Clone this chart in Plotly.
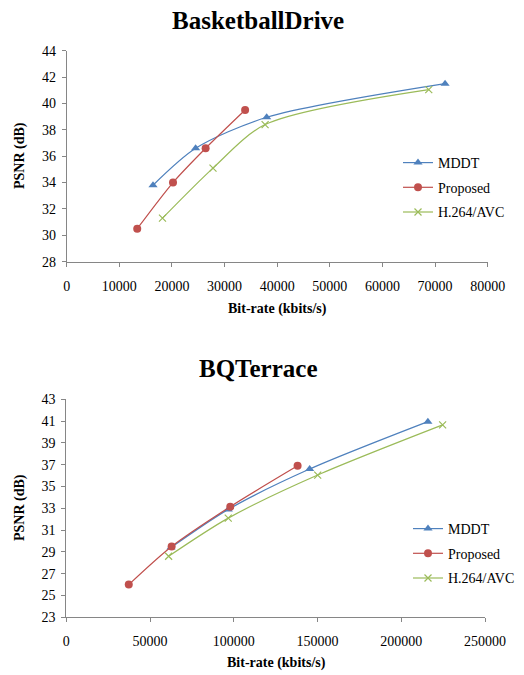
import plotly.graph_objects as go

# ---- data ----
series_names = ["MDDT", "Proposed", "H.264/AVC"]

bd_mddt_x = [16400, 24500, 38000, 71900]
bd_mddt_y = [33.8, 36.6, 38.95, 41.5]
bd_prop_x = [13400, 20200, 26400, 33900]
bd_prop_y = [30.5, 34.0, 36.6, 39.5]
bd_h264_x = [18200, 27800, 37700, 68800]
bd_h264_y = [31.3, 35.1, 38.4, 41.05]

bq_mddt_x = [62500, 96700, 145300, 215900]
bq_mddt_y = [29.4, 32.9, 36.6, 40.95]
bq_prop_x = [37300, 62900, 97900, 138100]
bq_prop_y = [26.0, 29.5, 33.15, 36.9]
bq_h264_x = [61100, 96700, 150100, 224700]
bq_h264_y = [28.6, 32.1, 36.05, 40.65]

bd_xticks = [0, 10000, 20000, 30000, 40000, 50000, 60000, 70000, 80000]
bd_yticks = [28, 30, 32, 34, 36, 38, 40, 42, 44]
bq_xticks = [0, 50000, 100000, 150000, 200000, 250000]
bq_yticks = [23, 25, 27, 29, 31, 33, 35, 37, 39, 41, 43]

colors = ["#4F81BD", "#C0504D", "#9BBB59"]
markers = [dict(symbol="triangle-up", size=8),
           dict(symbol="circle", size=8),
           dict(symbol="x-thin", size=7, line=dict(width=1.2, color=colors[2]))]

FONT = "Liberation Serif, Times New Roman, serif"

fig = go.Figure()

def add_series(xs, ys, i, xa, ya, legend):
    m = dict(markers[i])
    m["color"] = colors[i]
    fig.add_trace(go.Scatter(
        x=xs, y=ys, name=series_names[i], mode="lines+markers",
        line=dict(color=colors[i], width=1.2, shape="spline", smoothing=0.8),
        marker=m, xaxis=xa, yaxis=ya, legend=legend,
        legendgroup=legend + str(i),
    ))

top = [(bd_mddt_x, bd_mddt_y), (bd_prop_x, bd_prop_y), (bd_h264_x, bd_h264_y)]
bot = [(bq_mddt_x, bq_mddt_y), (bq_prop_x, bq_prop_y), (bq_h264_x, bq_h264_y)]
for i, (xs, ys) in enumerate(top):
    add_series(xs, ys, i, "x", "y", "legend")
for i, (xs, ys) in enumerate(bot):
    add_series(xs, ys, i, "x2", "y2", "legend2")

W, H = 524, 675
axcommon = dict(showgrid=False, zeroline=False, showline=True, linecolor="#868686",
                linewidth=1, ticks="outside", ticklen=4, tickcolor="#868686",
                tickfont=dict(family=FONT, size=14, color="#000"), tickformat="d",
                automargin=False)

def dom_x(a, b):
    return [a / W, b / W]

def dom_y(top_px, bot_px):
    return [1 - bot_px / H, 1 - top_px / H]

legend_common = dict(font=dict(family=FONT, size=14, color="#000"),
                     bgcolor="rgba(0,0,0,0)", traceorder="grouped",
                     tracegroupgap=3.5, xanchor="left", yanchor="top",
                     itemwidth=30)

fig.update_layout(
    template="none",
    width=W, height=H, margin=dict(l=0, r=0, t=0, b=0, autoexpand=False),
    paper_bgcolor="white", plot_bgcolor="white",
    showlegend=True,
    xaxis=dict(axcommon, domain=dom_x(66.7, 487.7), range=[0, 80000],
               tickvals=bd_xticks, anchor="y", ticklabelstandoff=7),
    yaxis=dict(axcommon, domain=dom_y(50.7, 261.7), range=[28, 44],
               tickvals=bd_yticks, anchor="x", ticklabelstandoff=3),
    xaxis2=dict(axcommon, domain=dom_x(66.3, 485), range=[0, 250000],
                tickvals=bq_xticks, anchor="y2", ticklabelstandoff=7),
    yaxis2=dict(axcommon, domain=dom_y(399.3, 617.3), range=[23, 43],
                tickvals=bq_yticks, anchor="x2", ticklabelstandoff=3),
    legend=dict(legend_common, x=398 / W, y=1 - 147 / H),
    legend2=dict(legend_common, x=408 / W, y=1 - 513 / H),
)

def ann(text, x, y, size, angle=0):
    fig.add_annotation(text=text, x=x / W, y=1 - y / H, xref="paper", yref="paper",
                       showarrow=False, textangle=angle,
                       font=dict(family=FONT, size=size, color="#000"),
                       xanchor="center", yanchor="middle")

ann("<b>BasketballDrive</b>", 258, 20, 25)
ann("<b>BQTerrace</b>", 258, 368, 25)
ann("<b>Bit-rate (kbits/s)</b>", 277, 309, 14)
ann("<b>Bit-rate (kbits/s)</b>", 276, 663, 14)
ann("<b>PSNR (dB)</b>", 20, 156, 14, -90)
ann("<b>PSNR (dB)</b>", 20, 508, 14, -90)

fig.write_html(
    "out.html",
    config={"displayModeBar": False},
    post_script="document.body.style.margin='0';"
                "document.documentElement.style.overflow='hidden';",
)
